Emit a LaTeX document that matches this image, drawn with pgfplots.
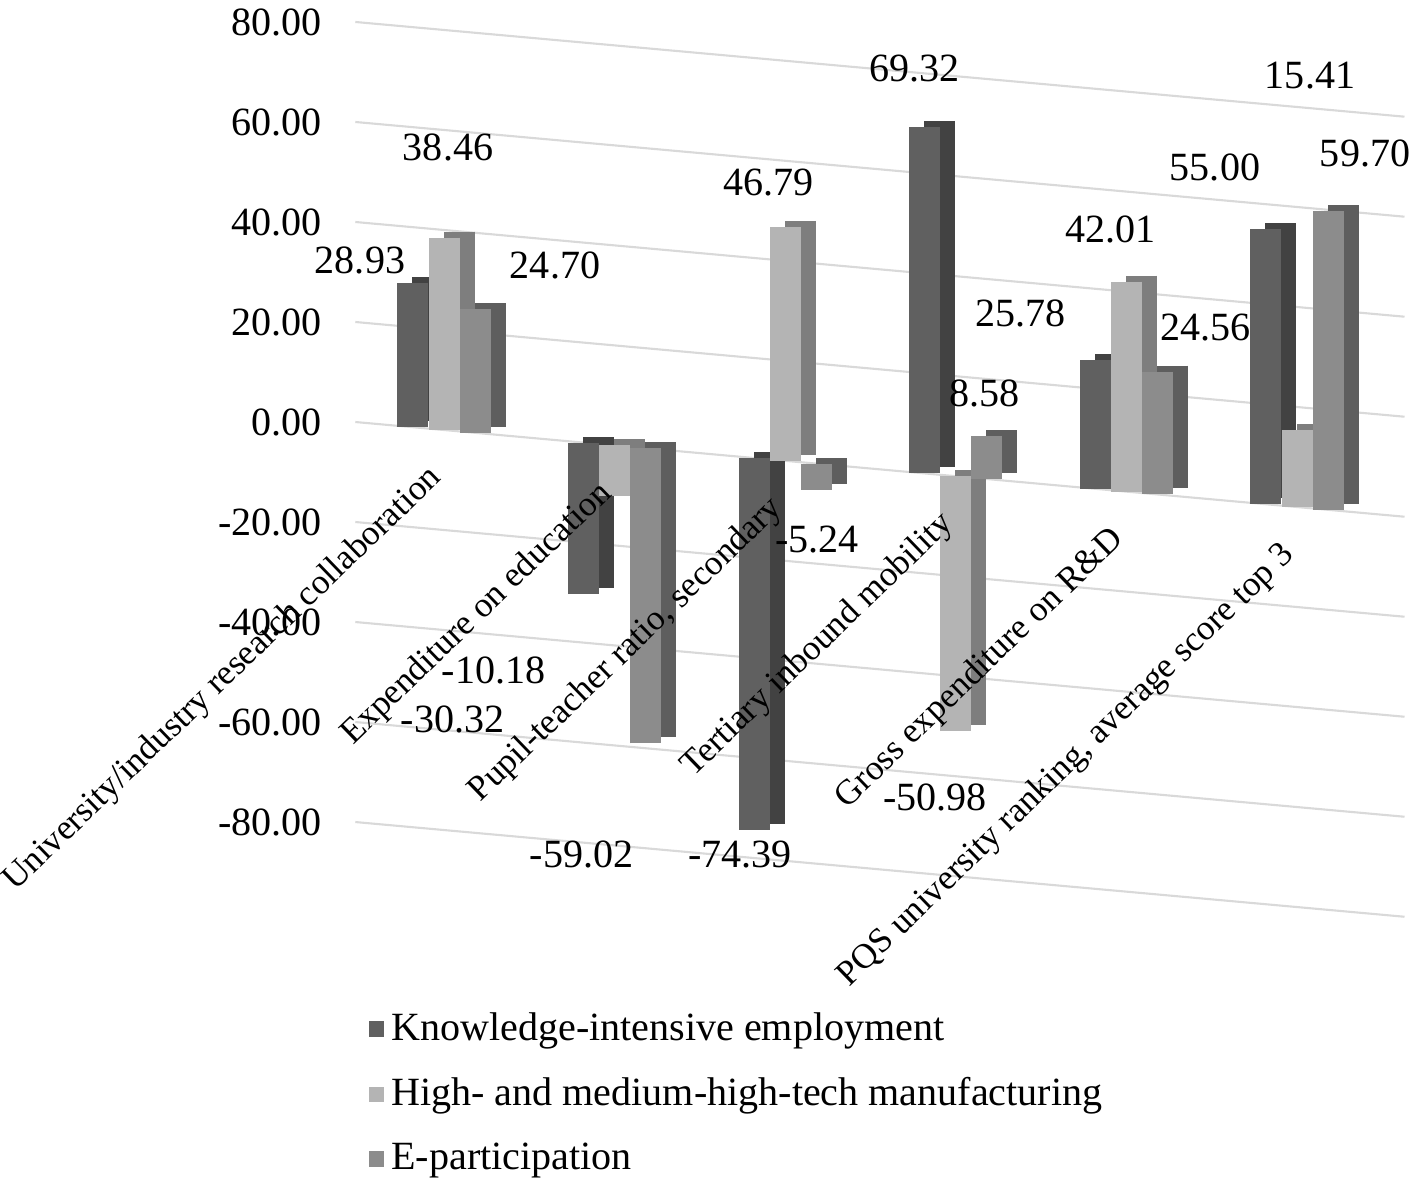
\documentclass[border=0pt]{standalone}
\usepackage{pgfplots}
\pgfplotsset{compat=1.18}
\usepackage{pgfplotstable}
\usepackage{fontspec}
\setmainfont{Liberation Serif}
\definecolor{kie}{HTML}{606060}
\definecolor{kieside}{HTML}{424242}
\definecolor{hmt}{HTML}{B4B4B4}
\definecolor{hmtside}{HTML}{7E7E7E}
\definecolor{ep}{HTML}{8C8C8C}
\definecolor{epside}{HTML}{5E5E5E}
\definecolor{gridc}{HTML}{D9D9D9}

% x = category, y = value, dx/dy = label offset (units of 0.01cm)
\pgfplotstableread{
x y dx dy
1 28.93 -53 22
2 -30.32 -131 -125
3 -74.39 -14 -25
4 69.32 -10 58
5 25.78 -75 46
6 55.00 -51 62
}\kie
\pgfplotstableread{
x y dx dy
1 38.46 4 90
2 -10.18 -121 -174
3 46.79 -17 44
4 -50.98 -21 -66
5 42.01 -16 52
6 15.41 13 355
}\hmt
\pgfplotstableread{
x y dx dy
1 24.70 80 44
2 -59.02 -64 -111
3 -5.24 1 -50
4 8.58 -2 43
5 24.56 48 44
6 59.70 37 58
}\ep

\newcommand\fbig{\fontsize{11.4pt}{13.7pt}\selectfont}
\newcommand\fcat{\fontsize{10pt}{12pt}\selectfont}

\pgfplotsset{
  geom/.style={
    x={(1.706cm,-0.154cm)}, y={(0cm,0.05cm)},
    anchor=origin, at={(3.553cm,7.61cm)},
    xmin=0.48, xmax=6.63, ymin=-80, ymax=80,
    axis line style={draw=none}, major tick length=0pt, clip=false},
  barbase/.style={draw=none, forget plot,
    error bars/y dir=both, error bars/y explicit, error bars/error mark=none},
  front/.style={barbase,
    visualization depends on={\thisrow{dx}\as\dx},
    visualization depends on={\thisrow{dy}\as\dy},
    nodes near coords,
    nodes near coords style={font=\fbig, text=black, anchor=center, inner sep=0pt,
      xshift={\dx*0.01cm}, yshift={\dy*0.01cm},
      /pgf/number format/fixed, /pgf/number format/fixed zerofill,
      /pgf/number format/precision=2, /pgf/number format/assume math mode=true},
    mark=none, mark size=0pt, mark options={draw=none, fill=none}},
}

\begin{document}
\begin{tikzpicture}
\useasboundingbox (0,0) rectangle (14.21cm,11.83cm);
\begin{axis}[
  geom,
  ymajorgrids, grid style={gridc, line width=0.6pt},
  ytick={-80,-60,...,80},
  yticklabel style={font=\fbig, anchor=east, inner sep=0pt, xshift=-0.33cm,
    /pgf/number format/fixed, /pgf/number format/fixed zerofill,
    /pgf/number format/precision=2, /pgf/number format/assume math mode=true},
  xtick=\empty,
  legend cell align=left,
  legend style={at={(0,0)}, anchor=north west, xshift=0.13cm, yshift=-0.88cm,
    draw=none, fill=none, font=\fbig, row sep=0.18cm, inner sep=0pt},
]
% side/top faces (the same bars, set back)
\addplot[barbase, mark=none, error bars/error bar style={line width=0.31cm, kieside}]
  table[x expr=\thisrow{x}-0.094, y expr=\thisrow{y}+1.47,
        y error plus expr={max(-\thisrow{y},0)}, y error minus expr={max(\thisrow{y},0)}] {\kie};
\addplot[barbase, mark=none, error bars/error bar style={line width=0.31cm, hmtside}]
  table[x expr=\thisrow{x}+0.088, y expr=\thisrow{y}+1.47,
        y error plus expr={max(-\thisrow{y},0)}, y error minus expr={max(\thisrow{y},0)}] {\hmt};
\addplot[barbase, mark=none, error bars/error bar style={line width=0.31cm, epside}]
  table[x expr=\thisrow{x}+0.270, y expr=\thisrow{y}+1.47,
        y error plus expr={max(-\thisrow{y},0)}, y error minus expr={max(\thisrow{y},0)}] {\ep};
% front faces
\addplot[front, error bars/error bar style={line width=0.31cm, kie}]
  table[x expr=\thisrow{x}-0.182, y=y,
        y error plus expr={max(-\thisrow{y},0)}, y error minus expr={max(\thisrow{y},0)}] {\kie};
\addplot[front, error bars/error bar style={line width=0.31cm, hmt}]
  table[x=x, y=y,
        y error plus expr={max(-\thisrow{y},0)}, y error minus expr={max(\thisrow{y},0)}] {\hmt};
\addplot[front, error bars/error bar style={line width=0.31cm, ep}]
  table[x expr=\thisrow{x}+0.182, y=y,
        y error plus expr={max(-\thisrow{y},0)}, y error minus expr={max(\thisrow{y},0)}] {\ep};
\addlegendimage{legend image code/.code={\fill[kie] (0cm,-0.07cm) rectangle (0.14cm,0.07cm);}}
\addlegendentry{Knowledge-intensive employment}
\addlegendimage{legend image code/.code={\fill[hmt] (0cm,-0.07cm) rectangle (0.14cm,0.07cm);}}
\addlegendentry{High- and medium-high-tech manufacturing}
\addlegendimage{legend image code/.code={\fill[ep] (0cm,-0.07cm) rectangle (0.14cm,0.07cm);}}
\addlegendentry{E-participation}
\end{axis}
% category names, set over the bars
\begin{axis}[
  geom,
  ytick=\empty,
  xtick={1,2,3,4,5,6},
  xticklabels={University/industry research collaboration, Expenditure on education, {Pupil-teacher ratio, secondary}, Tertiary inbound mobility, Gross expenditure on R\&D, {PQS university ranking, average score top 3}},
  xticklabel style={font=\fcat, xshift=-0.07cm, yshift=3.57cm, rotate=44, anchor=east, inner sep=0pt},
]
\end{axis}
\end{tikzpicture}
\end{document}
